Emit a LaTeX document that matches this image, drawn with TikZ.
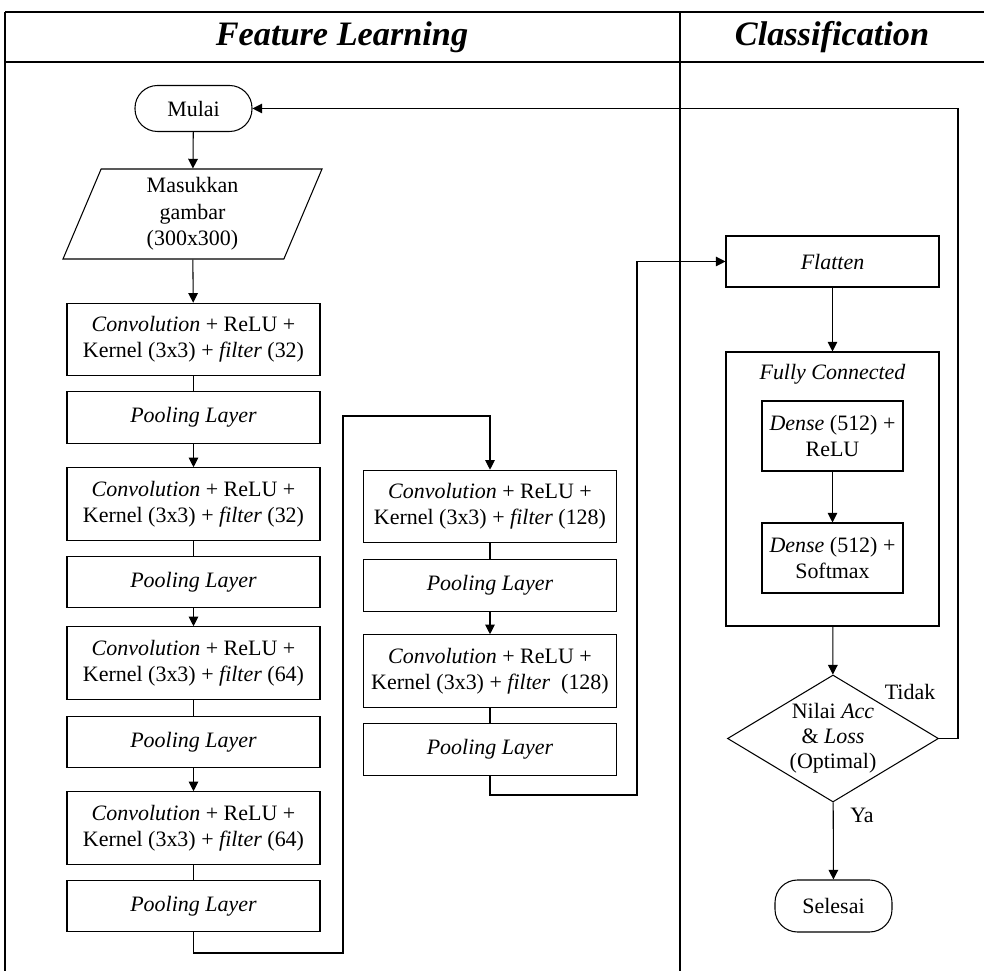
\documentclass[tikz,border=0pt]{standalone}
\usepackage{fontspec}
\setmainfont{Liberation Serif}
\usepackage{tikz}
\usetikzlibrary{arrows.meta,shapes.geometric}

\tikzset{
  every node/.style={font=\fontsize{12.5}{15}\selectfont},
  layerbox/.style={draw,line width=0.6pt,minimum width=5.06cm,minimum height=1.45cm,align=center,inner sep=2pt},
  poolbox/.style={layerbox,minimum height=1.03cm},
  termbox/.style={draw,line width=0.6pt,rounded corners=0.45cm,minimum width=2.34cm,minimum height=0.92cm},
  iobox/.style={draw,line width=0.6pt,trapezium,trapezium left angle=63.4,trapezium right angle=116.6,trapezium stretches body,minimum width=5.18cm,minimum height=1.8cm,align=center,inner sep=1pt},
  densebox/.style={draw,line width=0.6pt,minimum width=2.82cm,minimum height=1.40cm,align=center,inner sep=2pt},
  decbox/.style={draw,line width=0.6pt,diamond,minimum width=4.22cm,minimum height=2.54cm,inner sep=0pt},
  titletext/.style={font=\fontsize{19.5}{22}\selectfont\bfseries\itshape},
  arr/.style={line width=0.6pt,-{Triangle[length=5.5pt,width=5.5pt]}},
  link/.style={line width=0.6pt},
}

\begin{document}
\begin{tikzpicture}[x=1cm,y=1cm]
\path[use as bounding box] (0,0) rectangle (19.68,19.42);
% frame
\draw[link] (0.10,19.18) -- (19.68,19.18);
\draw[link] (0.10,18.18) -- (19.68,18.18);
\draw[link] (0.10,19.18) -- (0.10,0);
\draw[link] (13.60,19.18) -- (13.60,0);
\node[titletext] (ftitle) at (6.84,18.68) {Feature Learning};
\node[titletext] (ctitle) at (16.64,18.68) {Classification};

% feature learning
\node[termbox] (mulai) at (3.87,17.25) {Mulai};
\node[iobox] (input) at (3.85,15.14) {Masukkan\\gambar\\(300x300)};
\node[layerbox] (conv1) at (3.87,12.63) {\textit{Convolution} + ReLU +\\Kernel (3x3) + \textit{filter} (32)};
\node[poolbox] (pool1) at (3.87,11.07) {\textit{Pooling Layer}};
\node[layerbox] (conv2) at (3.87,9.34) {\textit{Convolution} + ReLU +\\Kernel (3x3) + \textit{filter} (32)};
\node[poolbox] (pool2) at (3.87,7.78) {\textit{Pooling Layer}};
\node[layerbox] (conv3) at (3.87,6.16) {\textit{Convolution} + ReLU +\\Kernel (3x3) + \textit{filter} (64)};
\node[poolbox] (pool3) at (3.87,4.58) {\textit{Pooling Layer}};
\node[layerbox] (conv4) at (3.87,2.86) {\textit{Convolution} + ReLU +\\Kernel (3x3) + \textit{filter} (64)};
\node[poolbox] (pool4) at (3.87,1.30) {\textit{Pooling Layer}};

\node[layerbox] (conv5) at (9.80,9.29) {\textit{Convolution} + ReLU +\\Kernel (3x3) + \textit{filter} (128)};
\node[poolbox] (pool5) at (9.80,7.71) {\textit{Pooling Layer}};
\node[layerbox] (conv6) at (9.80,6.00) {\textit{Convolution} + ReLU +\\Kernel (3x3) + \textit{filter} \ (128)};
\node[poolbox] (pool6) at (9.80,4.43) {\textit{Pooling Layer}};

% classification
\node[layerbox,minimum width=4.26cm,minimum height=1.02cm] (flatten) at (16.65,14.19) {\textit{Flatten}};
\node[draw,line width=0.6pt,minimum width=4.26cm,minimum height=5.48cm] (fc) at (16.65,9.64) {};
\node (fclabel) at (16.65,11.94) {\textit{Fully Connected}};
\node[densebox] (dense1) at (16.65,10.70) {\textit{Dense} (512) +\\ReLU};
\node[densebox] (dense2) at (16.65,8.26) {\textit{Dense} (512) +\\Softmax};
\node[decbox] (check) at (16.66,4.65) {};
\node[align=center,font=\fontsize{12.5}{14.2}\selectfont] (checktext) at (check.center) {Nilai \textit{Acc}\\\& \textit{Loss}\\(Optimal)};
\node[termbox,minimum height=1.04cm] (selesai) at (16.67,1.30) {Selesai};
\node (tidak) at (18.20,5.58) {Tidak};
\node (ya) at (17.24,3.12) {Ya};

% connectors
\coordinate (b1) at (6.86,0.36);
\coordinate (b2) at (6.86,11.10);
\coordinate (c1) at (12.74,3.52);
\coordinate (loop) at (19.16,17.25);

\draw[arr] (mulai) -- (input);
\draw[arr] (input) -- (conv1);
\draw[link] (conv1) -- (pool1);
\draw[arr] (pool1) -- (conv2);
\draw[link] (conv2) -- (pool2);
\draw[arr] (pool2) -- (conv3);
\draw[link] (conv3) -- (pool3);
\draw[arr] (pool3) -- (conv4);
\draw[link] (conv4) -- (pool4);
\draw[arr] (pool4.south) |- (b1) -- (b2) -| (conv5.north);
\draw[link] (conv5) -- (pool5);
\draw[arr] (pool5) -- (conv6);
\draw[link] (conv6) -- (pool6);
\draw[arr] (pool6.south) |- (c1) |- (flatten.west);
\draw[arr] (flatten) -- (fc);
\draw[arr] (dense1) -- (dense2);
\draw[arr] (fc) -- (check);
\draw[arr] (check) -- (selesai);
\draw[arr] (check.east) -| (loop) -- (mulai.east);
\end{tikzpicture}
\end{document}
